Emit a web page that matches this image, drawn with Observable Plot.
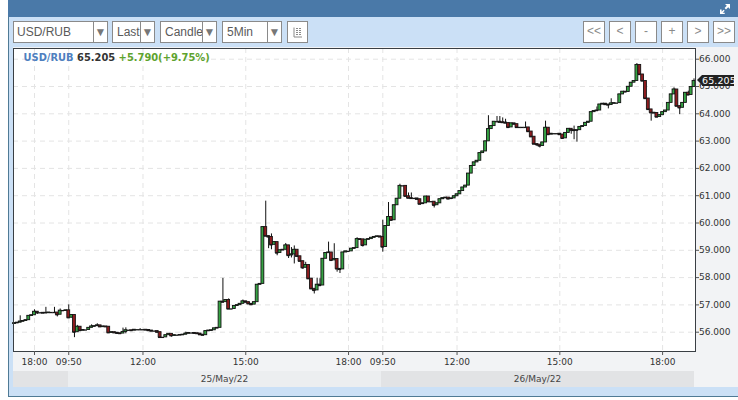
<!DOCTYPE html>
<html><head><meta charset="utf-8">
<script src="https://cdn.jsdelivr.net/npm/d3@7"></script>
<script src="https://cdn.jsdelivr.net/npm/@observablehq/plot@0.6"></script>
<style>
html,body{margin:0;padding:0;background:#fff;width:738px;height:400px;overflow:hidden}
#root{position:relative;width:738px;height:400px;font-family:"Liberation Sans",Arial,sans-serif}
#root div{box-sizing:border-box;position:absolute}
.box{background:#fff;border:1px solid #8a8a8a;top:21px;height:22px;color:#5a5a5a;font-size:12px;line-height:20px;overflow:hidden;white-space:nowrap}
.arrow{top:0;height:20px;border-left:1px solid #8a8a8a;background:#fff;color:#777;font-size:12px;text-align:center;line-height:21px}
.btn{text-align:center;color:#8a8a8a;font-size:12px;width:22px;line-height:19px}
svg text{font-family:"DejaVu Sans",sans-serif}
</style></head><body><div id="root"></div>
<script>
const symbol = "USD/RUB", lastText = "65.205", changeText = "+5.790(+9.75%)";
const lastPrice = 65.205, firstOpen = 56.3;
const closes = [
 56.33,56.35,56.39,56.41,56.44,56.60,56.62,56.75,56.71,56.71,
 56.70,56.71,56.72,56.72,56.72,56.64,56.79,56.79,56.80,56.53,
 56.63,56.00,56.20,56.06,56.08,56.08,56.16,56.21,56.22,56.25,
 56.20,56.21,56.20,55.98,56.00,55.98,55.96,55.95,56.01,56.07,
 56.07,56.06,56.09,56.09,56.09,56.09,56.08,56.06,56.04,56.04,
 56.00,55.81,55.81,55.89,55.94,55.87,55.89,55.89,55.90,55.91,
 55.95,55.97,55.97,55.96,55.95,55.91,55.89,56.04,56.06,56.07,
 56.14,56.16,57.12,57.10,57.18,56.85,56.85,56.96,56.99,57.04,
 57.13,57.10,57.04,57.01,57.10,57.74,57.77,59.85,59.52,59.49,
 59.20,59.30,58.90,59.00,59.02,59.18,58.81,58.85,59.02,58.78,
 58.60,58.36,58.46,57.96,57.59,57.53,57.74,57.71,58.69,58.90,
 58.92,58.63,58.68,58.32,58.30,58.92,58.96,58.96,59.06,59.08,
 59.41,59.40,59.18,59.39,59.41,59.46,59.49,59.51,59.49,59.12,
 59.89,60.22,60.10,60.65,60.89,61.36,61.36,60.98,60.91,60.90,
 60.90,60.87,60.69,60.72,60.97,60.78,60.78,60.65,60.72,60.87,
 60.91,60.93,60.88,60.90,60.98,61.05,61.17,61.30,61.37,61.81,
 62.09,62.22,62.28,62.56,62.62,62.99,63.44,63.55,63.71,63.71,
 63.69,63.68,63.66,63.50,63.65,63.62,63.50,63.50,63.50,63.50,
 63.35,63.16,62.89,62.87,62.82,62.95,63.49,63.24,63.27,63.27,
 63.27,63.24,63.10,63.30,63.45,63.40,63.39,63.40,63.52,63.55,
 63.67,63.71,64.06,64.10,64.12,64.34,64.37,64.34,64.32,64.38,
 64.39,64.39,64.71,64.81,64.80,64.99,65.14,65.20,65.79,65.44,
 65.20,64.56,64.16,64.04,64.03,63.88,63.95,64.06,64.12,64.40,
 64.71,64.89,64.28,64.22,64.40,64.77,64.69,64.98,65.205
];
const highPairs = [[2,56.6],[7,56.82],[11,56.91],[14,56.91],[16,56.85],[19,57.0],[22,56.25],[27,56.27],[29,56.31],[38,56.15],[39,56.16],
 [44,56.13],[60,56.0],[73,57.97],[75,57.22],[80,57.18],[88,60.8],[90,59.6],[95,59.25],[97,59.1],[98,59.16],[102,58.56],[106,57.98],[107,57.96],
 [110,59.3],[112,59.24],[120,59.46],[129,60.1],[131,60.75],[135,61.42],[138,61.1],[139,61.1],[166,63.93],[169,63.9],[170,63.9],[171,63.85],[172,63.8],
 [179,63.7],[186,63.73],[196,63.55],[204,64.25],[209,64.55],[218,65.84],[231,64.95],[236,64.83],[238,65.28]];
const lowPairs = [[8,56.65],[15,56.56],[21,55.8],[39,55.94],[51,55.77],[55,55.82],[89,59.06],[90,59.02],[92,58.8],[96,58.7],[97,58.72],[98,58.5],[101,58.3],
 [105,57.4],[113,58.2],[114,58.15],[122,59.12],[129,58.93],[147,60.55],[183,62.8],[184,62.75],[195,63.25],[196,63.05],[197,62.96],
 [208,64.18],[223,63.73],[233,63.97]];
const yTicks = [56,57,58,59,60,61,62,63,64,65,66];
const xTickIndex = [7,19,45,81,117,129,155,191,227];
const xTickLabels = ["18:00","09:50","12:00","15:00","18:00","09:50","12:00","15:00","18:00"];
const dropdowns = [["USD/RUB",13,95,79],["Last",112,43,27],["Candle",160,57,41],["5Min",222,60,44]];
const navButtons = ["<<","<","-","+",">",">>"];
const dateBands = [["",13,55,"#e2e3e5"],["25/May/22",68,313,"#eceef0"],["26/May/22",381,313,"#e2e3e5"]];

const highMap = new Map(highPairs), lowMap = new Map(lowPairs);
const candles = closes.map((c,i)=>{
  const o = i ? closes[i-1] : firstOpen;
  return {i,o,c,h:highMap.get(i) ?? Math.max(o,c),l:lowMap.get(i) ?? Math.min(o,c)};
});

const root = document.getElementById("root");
function el(css,html,cls){const d=document.createElement("div");d.style.cssText=css;if(html!=null)d.innerHTML=html;if(cls)d.className=cls;root.appendChild(d);return d;}
el("left:8px;top:0;width:730px;height:397px;background:#cbe0f6;border-left:1px solid #4f7a95;border-bottom:1px solid #4f7a95");
el("left:8px;top:0;width:730px;height:17px;background:#4a79a8");
el('left:718px;top:2px;width:14px;height:14px','<svg width="14" height="14" viewBox="0 0 14 14"><path d="M7 2h5v5l-1.8-1.8L8 7.4 6.6 6l2.2-2.2zM2 12V7.5h1.6v2.2l2-2 1.1 1.1-2 2h2V12z" fill="#fff"/></svg>');
el("left:13px;top:47px;width:725px;height:340px;background:#f2f3f5");
for (const [label,left,w,div] of dropdowns) {
  const b = el(`left:${left}px;width:${w}px;padding-left:${label=="USD/RUB"?3:4}px`,label,"box");
  const a = document.createElement("div"); a.className="arrow"; a.style.cssText=`left:${div}px;width:${w-div-2}px`; a.textContent="▼"; b.appendChild(a);
}
el("left:287px;width:21px",'<svg width="19" height="20" style="display:block"><path d="M6 5.5v9.5h8M8 6.5h2M11 6.5h2M8 8.5h2M11 8.5h2M8 10.5h2M11 10.5h2M8 12.5h2M11 12.5h2" stroke="#8a8a8a" fill="none"/></svg>',"box");
navButtons.forEach((t,k)=>{ el(`left:${583+26*k}px`,t.replaceAll("<","&lt;").replaceAll(">","&gt;"),"box btn"); });
for (const [t,left,w,col] of dateBands) {
  el(`left:${left}px;top:371px;width:${w}px;height:16px;background:${col};color:#444;font:9px 'DejaVu Sans';text-align:center;line-height:16px`,t);
}

const chart = Plot.plot({
  width:738, height:324, marginLeft:13, marginRight:43, marginTop:1, marginBottom:20,
  style:{background:"transparent",overflow:"visible",fontFamily:"DejaVu Sans",fontSize:"9px"},
  x:{domain:[0,238],range:[14,693.5]},
  y:{domain:[56,66],range:[284.7,11.7]},
  marks:[
    Plot.gridY(yTicks,{stroke:"#e4e4e4",strokeOpacity:1,strokeDasharray:"5,4"}),
    Plot.gridX(xTickIndex,{stroke:"#e4e4e4",strokeOpacity:1,strokeDasharray:"5,4"}),
    Plot.ruleX(candles,{x:"i",y1:"l",y2:"h",stroke:"#111",strokeWidth:1}),
    Plot.ruleY(candles,{y:"c",x1:d=>d.i-0.55,x2:d=>d.i+0.55,stroke:"#161616",strokeWidth:1.3}),
    Plot.rect(candles,{x1:d=>d.i-0.5,x2:d=>d.i+0.5,y1:"o",y2:"c",
      fill:d=>d.c>=d.o?"#35a343":"#8e1c1f",stroke:"#161616",strokeWidth:0.9}),
    Plot.frame({stroke:"#3a3f44",strokeWidth:1}),
    Plot.axisY(yTicks,{anchor:"right",tickSize:3,tickPadding:0.5,tickFormat:d3.format(".3f"),label:null,stroke:"#555",fill:"#333",letterSpacing:"0.3px"}),
    Plot.axisX(xTickIndex,{anchor:"bottom",tickSize:4,tickPadding:3,tickFormat:(d)=>xTickLabels[xTickIndex.indexOf(d)],label:null,stroke:"#555",fill:"#333",letterSpacing:"0.1px"})
  ]
});
el("left:13px;top:48px;width:682px;height:303px;background:#fff");
const wrap = el("left:0;top:47px;width:738px;height:324px");
wrap.appendChild(chart);

el("left:23.5px;top:51px;font:bold 9.9px 'DejaVu Sans';line-height:14px;white-space:nowrap",
  `<span style="color:#4f7fbf">${symbol}</span> <span style="color:#333">${lastText}</span> <span style="color:#5ea32e">${changeText}</span>`);

const tagY = 47 + chart.scale("y").apply(lastPrice);
el(`left:702px;top:${tagY-5}px;width:32px;height:11px;background:#222;color:#fff;font:9.5px 'DejaVu Sans';line-height:11px;text-align:center;letter-spacing:.1px`,lastText);
el(`left:697px;top:${tagY-5}px;width:0;height:0;border-top:5.5px solid transparent;border-bottom:5.5px solid transparent;border-right:5px solid #222`);
</script></body></html>
